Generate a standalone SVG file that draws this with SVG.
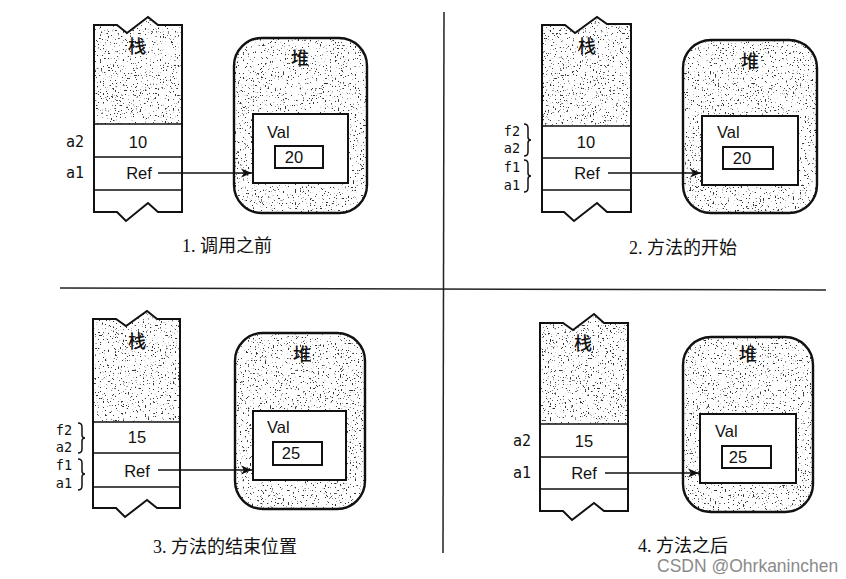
<svg xmlns="http://www.w3.org/2000/svg" width="846" height="579" viewBox="0 0 846 579">
<defs>
<style>
.o{fill:none;stroke:#111;stroke-width:2;stroke-linejoin:miter}
.ln{stroke:#111;stroke-width:1.6}
.w{fill:#fff}
.sp{fill:#000}
.t{font-family:"Liberation Sans",Arial,sans-serif;font-size:16.5px;fill:#111;text-anchor:middle;dominant-baseline:central}
.tl{font-family:"Liberation Sans",Arial,sans-serif;font-size:16.5px;fill:#111;dominant-baseline:central}
.m{font-family:"DejaVu Sans Mono","Liberation Mono",monospace;font-size:15px;fill:#111;text-anchor:middle;dominant-baseline:central}
.ms{font-size:13.5px}
.cj{font-family:"Noto Sans CJK SC",sans-serif;font-size:18px;font-weight:500;fill:#111;text-anchor:middle;dominant-baseline:central}
.cap{font-family:"Liberation Serif","Noto Sans CJK SC",serif;font-size:18px;fill:#111;text-anchor:middle;dominant-baseline:central}
.br{fill:none;stroke:#111;stroke-width:1.5}
.ar{stroke:#111;stroke-width:1.5;fill:none}
.div{stroke:#222;stroke-width:1.5;fill:none}
.wm{font-family:"Liberation Sans",Arial,sans-serif;font-size:17.5px;fill:#8a8a8a;dominant-baseline:central}
</style>
<filter id="spk" x="0" y="0" width="1" height="1" color-interpolation-filters="sRGB">
<feTurbulence type="fractalNoise" baseFrequency="0.6" numOctaves="2" seed="4" result="n"/>
<feColorMatrix in="n" type="matrix" values="0 0 0 0 0  0 0 0 0 0  0 0 0 0 0  1 0 0 0 0" result="r"/>
<feComponentTransfer in="r" result="d"><feFuncA type="linear" slope="14" intercept="-9.05"/></feComponentTransfer>
<feFlood flood-color="#333"/>
<feComposite operator="in" in2="d" result="dots"/>
<feComposite in="dots" in2="SourceAlpha" operator="in"/>
</filter>
<marker id="ah" markerUnits="userSpaceOnUse" markerWidth="12" markerHeight="10" refX="11" refY="5" orient="auto">
<path d="M0,0.5 L11,5 L0,9.5 L3,5 Z" fill="#111"/>
</marker>
</defs>
<rect width="846" height="579" fill="#fff"/>

<g id="dividers">
<path class="div" d="M60,288 L826,290"/>
<path class="div" d="M444,12 L443,553"/>
</g>

<!-- Panel 1 -->
<g id="p1-stack">
<path class="w" d="M94,212 V25 H117 L127,33 L148,17 L158,25 H182 V212 H158 L148,203 L126,221 L117,212 Z"/>
<path class="sp" filter="url(#spk)" d="M94,124 V25 H117 L127,33 L148,17 L158,25 H182 V124 Z"/>
<path class="o" d="M94,212 V25 H117 L127,33 L148,17 L158,25 H182 V212 H158 L148,203 L126,221 L117,212 Z"/>
<path class="ln" d="M94,124 H182 M94,157 H182 M94,190 H182"/>
<text class="cj" x="137" y="45">栈</text>
<text class="t" x="138" y="142">10</text>
<text class="t" x="139" y="173">Ref</text>
<text class="m" x="75" y="142">a2</text>
<text class="m" x="75" y="173">a1</text>
</g>
<g id="p1-heap">
<rect class="w" x="234" y="38" width="133" height="175" rx="28"/>
<rect class="sp" filter="url(#spk)" x="234" y="38" width="133" height="175" rx="28"/>
<rect class="o" x="234" y="38" width="133" height="175" rx="28" style="stroke-width:2.4"/>
<text class="cj" x="300" y="57">堆</text>
<rect class="w" x="253" y="114" width="95" height="69"/>
<rect class="o" x="253" y="114" width="95" height="69"/>
<text class="tl" x="267" y="132">Val</text>
<rect class="o" x="275" y="146" width="48" height="22"/>
<text class="t" x="294" y="157">20</text>
</g>
<g id="p1-caption"><text class="cap" x="227" y="246">1. 调用之前</text></g>

<!-- Panel 2 -->
<g id="p2-stack">
<path class="w" d="M542,212 V25 H565 L575,33 L597,17 L607,24 H631 V212 H607 L597,203 L574,221 L564,212 Z"/>
<path class="sp" filter="url(#spk)" d="M542,126 V25 H565 L575,33 L597,17 L607,24 H631 V126 Z"/>
<path class="o" d="M542,212 V25 H565 L575,33 L597,17 L607,24 H631 V212 H607 L597,203 L574,221 L564,212 Z"/>
<path class="ln" d="M542,126 H631 M542,158 H631 M542,190 H631"/>
<text class="cj" x="587" y="45">栈</text>
<text class="t" x="586" y="142">10</text>
<text class="t" x="587" y="173">Ref</text>
<text class="m ms" x="512" y="131">f2</text>
<text class="m ms" x="512" y="148">a2</text>
<text class="m ms" x="512" y="167">f1</text>
<text class="m ms" x="512" y="185">a1</text>
<path class="br" d="M524,124 Q528,124 528,128 V137 Q528,140 531,140 Q528,140 528,143 V152 Q528,156 524,156"/>
<path class="br" d="M524,160 Q528,160 528,164 V173 Q528,176 531,176 Q528,176 528,179 V188 Q528,192 524,192"/>
</g>
<g id="p2-heap">
<rect class="w" x="683" y="40" width="134" height="173" rx="28"/>
<rect class="sp" filter="url(#spk)" x="683" y="40" width="134" height="173" rx="28"/>
<rect class="o" x="683" y="40" width="134" height="173" rx="28" style="stroke-width:2.4"/>
<text class="cj" x="750" y="60">堆</text>
<rect class="w" x="702" y="116" width="96" height="69"/>
<rect class="o" x="702" y="116" width="96" height="69"/>
<text class="tl" x="717" y="132">Val</text>
<rect class="o" x="723" y="147" width="50" height="22"/>
<text class="t" x="742" y="158">20</text>
</g>
<g id="p2-caption"><text class="cap" x="683" y="248">2. 方法的开始</text></g>

<!-- Panel 3 -->
<g id="p3-stack">
<path class="w" d="M93,508 V319 H116 L126,326 L147,311 L157,319 H180 V508 H157 L147,500 L125,517 L116,508 Z"/>
<path class="sp" filter="url(#spk)" d="M93,422 V319 H116 L126,326 L147,311 L157,319 H180 V422 Z"/>
<path class="o" d="M93,508 V319 H116 L126,326 L147,311 L157,319 H180 V508 H157 L147,500 L125,517 L116,508 Z"/>
<path class="ln" d="M93,422 H180 M93,453 H180 M93,487 H180"/>
<text class="cj" x="137" y="340">栈</text>
<text class="t" x="137" y="437">15</text>
<text class="t" x="137" y="471">Ref</text>
<text class="m ms" x="64" y="430">f2</text>
<text class="m ms" x="64" y="447">a2</text>
<text class="m ms" x="64" y="465">f1</text>
<text class="m ms" x="64" y="483">a1</text>
<path class="br" d="M78,423 Q82,423 82,427 V435 Q82,438 85,438 Q82,438 82,441 V449 Q82,453 78,453"/>
<path class="br" d="M78,459 Q82,459 82,463 V471 Q82,474 85,474 Q82,474 82,477 V486 Q82,490 78,490"/>
</g>
<g id="p3-heap">
<rect class="w" x="235" y="333" width="130" height="176" rx="28"/>
<rect class="sp" filter="url(#spk)" x="235" y="333" width="130" height="176" rx="28"/>
<rect class="o" x="235" y="333" width="130" height="176" rx="28" style="stroke-width:2.4"/>
<text class="cj" x="302" y="353">堆</text>
<rect class="w" x="253" y="411" width="93" height="69"/>
<rect class="o" x="253" y="411" width="93" height="69"/>
<text class="tl" x="267" y="427">Val</text>
<rect class="o" x="273" y="442" width="49" height="23"/>
<text class="t" x="291" y="453">25</text>
</g>
<g id="p3-caption"><text class="cap" x="225" y="547">3. 方法的结束位置</text></g>

<!-- Panel 4 -->
<g id="p4-stack">
<path class="w" d="M540,511 V323 H563 L573,330 L594,314 L604,323 H628 V511 H604 L594,503 L572,520 L563,511 Z"/>
<path class="sp" filter="url(#spk)" d="M540,424 V323 H563 L573,330 L594,314 L604,323 H628 V424 Z"/>
<path class="o" d="M540,511 V323 H563 L573,330 L594,314 L604,323 H628 V511 H604 L594,503 L572,520 L563,511 Z"/>
<path class="ln" d="M540,424 H628 M540,457 H628 M540,489 H628"/>
<text class="cj" x="583" y="342">栈</text>
<text class="t" x="584" y="441">15</text>
<text class="t" x="584" y="473">Ref</text>
<text class="m" x="522" y="441">a2</text>
<text class="m" x="522" y="473">a1</text>
</g>
<g id="p4-heap">
<rect class="w" x="683" y="337" width="130" height="175" rx="28"/>
<rect class="sp" filter="url(#spk)" x="683" y="337" width="130" height="175" rx="28"/>
<rect class="o" x="683" y="337" width="130" height="175" rx="28" style="stroke-width:2.4"/>
<text class="cj" x="748" y="353">堆</text>
<rect class="w" x="700" y="414" width="96" height="69"/>
<rect class="o" x="700" y="414" width="96" height="69"/>
<text class="tl" x="715" y="431">Val</text>
<rect class="o" x="722" y="446" width="49" height="22"/>
<text class="t" x="738" y="457">25</text>
</g>
<g id="p4-caption"><text class="cap" x="683" y="546">4. 方法之后</text></g>

<g id="connectors">
<path class="ar" marker-end="url(#ah)" d="M158,173 H252"/>
<path class="ar" marker-end="url(#ah)" d="M608,173 H701"/>
<path class="ar" marker-end="url(#ah)" d="M158,470 H252"/>
<path class="ar" marker-end="url(#ah)" d="M605,473 H699"/>
</g>

<g id="watermark"><text class="wm" x="657" y="566">CSDN @Ohrkaninchen</text></g>
</svg>
